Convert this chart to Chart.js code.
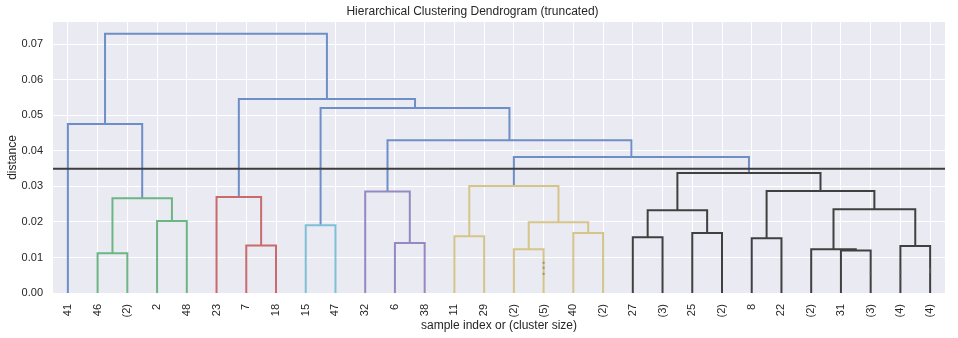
<!DOCTYPE html>
<html>
<head>
<meta charset="utf-8">
<title>Hierarchical Clustering Dendrogram (truncated)</title>
<script src="https://cdn.jsdelivr.net/npm/chart.js@4.4.1/dist/chart.umd.min.js"></script>
<style>
  body { margin: 0; background: #fff; }
</style>
</head>
<body>
<canvas id="dendro" width="958" height="338"></canvas>
<script>
// leaf labels, left to right (sample index or contracted cluster size)
const leafLabels = ["41", "46", "(2)", "2", "48", "23", "7", "18", "15", "47",
  "32", "6", "38", "11", "29", "(2)", "(5)", "40", "(2)", "27",
  "(3)", "25", "(2)", "8", "22", "(2)", "31", "(3)", "(4)", "(4)"];

// merges, scipy style: ids below 30 are leaves, 30 + k is the k-th merge
const mergeLeft = [1, 3, 30, 0, 6, 5, 8, 11, 10, 13, 15, 17, 40, 39, 19,
  21, 44, 23, 26, 25, 28, 49, 47, 46, 43, 38, 36, 35, 33];
const mergeRight = [2, 4, 31, 32, 7, 34, 9, 12, 37, 14, 16, 18, 41, 42, 20,
  22, 45, 24, 27, 48, 29, 50, 51, 52, 53, 54, 55, 56, 57];
const mergeHeight = [0.0112, 0.0203, 0.0267, 0.0476, 0.0134, 0.0270, 0.0191, 0.0141, 0.0286, 0.0160,
  0.0123, 0.0169, 0.0199, 0.0301, 0.0157, 0.0169, 0.0233, 0.0154, 0.0120, 0.0123,
  0.0132, 0.0236, 0.0287, 0.0338, 0.0383, 0.0430, 0.0521, 0.0546, 0.0730];
const mergeGroup = ["g", "g", "g", "b", "r", "r", "c", "m", "m", "y", "y", "y", "y", "y", "k",
  "k", "k", "k", "k", "k", "k", "k", "k", "k", "b", "b", "b", "b", "b"];

// small marks of the contracted leaves
const dotLeaf = [16, 16, 16, 20, 27, 28, 28, 29, 29];
const dotHeight = [0.0085, 0.0071, 0.0054, 0.0066, 0.0058, 0.0059, 0.0038, 0.0066, 0.0059];

const cutHeight = 0.035;
const yTicks = [0, 0.01, 0.02, 0.03, 0.04, 0.05, 0.06, 0.07];

const groupColors = {
  b: "#6e8ec6",
  g: "#6cb683",
  r: "#ca6a6d",
  c: "#7dc1d6",
  m: "#9688c2",
  y: "#d5c588",
  k: "#404040",
};

const FONT = "'Liberation Sans', Arial, sans-serif";
const TEXT = "#262626";

// position and height of every node
const nLeaves = leafLabels.length;
const nodeX = leafLabels.map((_, i) => 5 + 10 * i);
const nodeY = leafLabels.map(() => 0);
mergeHeight.forEach((h, k) => {
  nodeX.push((nodeX[mergeLeft[k]] + nodeX[mergeRight[k]]) / 2);
  nodeY.push(h);
});

const datasets = mergeHeight.map((h, k) => {
  const a = mergeLeft[k], b = mergeRight[k];
  return {
    data: [
      { x: nodeX[a], y: nodeY[a] },
      { x: nodeX[a], y: h },
      { x: nodeX[b], y: h },
      { x: nodeX[b], y: nodeY[b] },
    ],
    showLine: true,
    borderColor: groupColors[mergeGroup[k]],
    borderWidth: 2,
    pointRadius: 0,
    fill: false,
    order: 2,
  };
});

datasets.push({
  data: dotLeaf.map((l, i) => ({ x: nodeX[l], y: dotHeight[i] })),
  showLine: false,
  pointStyle: "rect",
  pointRadius: 1.5,
  pointBorderWidth: 0,
  pointBackgroundColor: "rgba(110,110,110,0.55)",
  order: 1,
});

datasets.push({
  data: [{ x: 0, y: cutHeight }, { x: nLeaves * 10, y: cutHeight }],
  showLine: true,
  borderColor: "#3d3d3d",
  borderWidth: 2,
  pointRadius: 0,
  order: 0,
});

const plotBg = {
  id: "plotBg",
  beforeDraw(chart) {
    const { ctx, chartArea: a } = chart;
    ctx.save();
    ctx.fillStyle = "#eaeaf2";
    ctx.fillRect(a.left, a.top, a.right - a.left, a.bottom - a.top);
    ctx.restore();
  },
};

new Chart(document.getElementById("dendro"), {
  type: "scatter",
  data: { datasets },
  plugins: [plotBg],
  options: {
    responsive: false,
    animation: false,
    layout: { padding: { left: 0, right: 13, top: 0, bottom: 0 } },
    plugins: {
      legend: { display: false },
      tooltip: { enabled: false },
      title: {
        display: true,
        text: "Hierarchical Clustering Dendrogram (truncated)",
        color: TEXT,
        font: { family: FONT, size: 12, weight: "normal" },
        padding: { top: 4.4, bottom: 3.2 },
      },
    },
    scales: {
      x: {
        type: "linear",
        min: 0,
        max: nLeaves * 10,
        afterBuildTicks: (s) => {
          s.ticks = nodeX.slice(0, nLeaves).map((v) => ({ value: v }));
        },
        afterFit: (s) => { s.height = 45; },
        ticks: {
          autoSkip: false,
          minRotation: 90,
          maxRotation: 90,
          padding: 11,
          color: TEXT,
          font: { family: FONT, size: 11 },
          callback: (v, i) => leafLabels[i],
        },
        grid: { color: "#ffffff", lineWidth: 1, drawTicks: false },
        border: { display: false },
        title: {
          display: true,
          text: "sample index or (cluster size)",
          color: TEXT,
          font: { family: FONT, size: 12 },
          padding: { top: 0, bottom: 5.6 },
        },
      },
      y: {
        min: 0,
        max: 0.0763,
        afterBuildTicks: (s) => {
          s.ticks = yTicks.map((v) => ({ value: v }));
        },
        afterFit: (s) => { s.width = 53; },
        ticks: {
          padding: 10,
          color: TEXT,
          font: { family: FONT, size: 11 },
          callback: (v) => v.toFixed(2),
        },
        grid: { color: "#ffffff", lineWidth: 1, drawTicks: false },
        border: { display: false },
        title: {
          display: true,
          text: "distance",
          color: TEXT,
          font: { family: FONT, size: 12 },
          padding: { top: 5, bottom: 0 },
        },
      },
    },
  },
});
</script>
</body>
</html>
